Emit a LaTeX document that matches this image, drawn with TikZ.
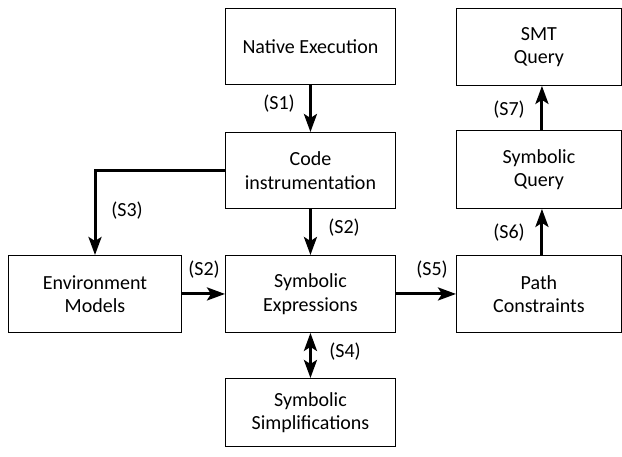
\documentclass[tikz,border=0pt]{standalone}
\usepackage{fontspec}
\setmainfont{Carlito}
\usetikzlibrary{arrows.meta}
\begin{document}
\begin{tikzpicture}[x=1pt,y=-1pt,
  box/.style={draw=black,line width=0.9pt,minimum width=170pt,minimum height=76pt,align=center,font=\fontsize{20}{23.5}\selectfont,anchor=north west,inner sep=0pt},
  tip/.style={Stealth[length=18pt,width=13pt,inset=4pt]},
  conn/.style={line width=3pt,-{Stealth[length=18pt,width=13pt,inset=4pt]}},
  lbl/.style={font=\fontsize{20}{23}\selectfont}]
\useasboundingbox (0,0) rectangle (622,456);
\node[box] (ne) at (225,8) {Native Execution};
\node[box] (ci) at (225,132) {Code\\instrumentation};
\node[box,minimum width=173pt,minimum height=77pt] (em) at (8,255) {Environment\\Models};
\node[box,minimum height=77pt] (se) at (225,255) {Symbolic\\Expressions};
\node[box,minimum height=68pt] (ss) at (225,378) {Symbolic\\Simplifications};
\node[box,minimum width=165pt,minimum height=77pt] (smt) at (456,8) {SMT\\Query};
\node[box,minimum width=165pt,minimum height=78pt] (sq) at (456,130) {Symbolic\\Query};
\node[box,minimum width=165pt,minimum height=77pt] (pc) at (456,255) {Path\\Constraints};
\coordinate (c3) at (95,170);
\draw[conn] (ne.south) -- (ci.north);
\draw[conn] (ci.west |- c3) -- (c3) -- (c3 |- em.north);
\draw[conn] (ci.south) -- (se.north);
\draw[conn] (em.east) -- (se.west);
\draw[line width=3pt,{Stealth[length=18pt,width=13pt,inset=4pt]}-{Stealth[length=18pt,width=13pt,inset=4pt]}] (se.south) -- (ss.north);
\draw[conn] ([xshift=3pt]pc.north) -- ([xshift=3pt]sq.south);
\draw[conn] ([xshift=3pt]sq.north) -- ([xshift=3pt]smt.south);
\draw[conn] (se.east) -- (pc.west);
\node[lbl] (l1) at (279,104) {(S1)};
\node[lbl] (l3) at (127,211) {(S3)};
\node[lbl] (l2a) at (344,228) {(S2)};
\node[lbl] (l2b) at (204,270) {(S2)};
\node[lbl] (l4) at (345,352) {(S4)};
\node[lbl] (l5) at (432,270) {(S5)};
\node[lbl] (l6) at (509,233) {(S6)};
\node[lbl] (l7) at (509,110) {(S7)};
\end{tikzpicture}
\end{document}
